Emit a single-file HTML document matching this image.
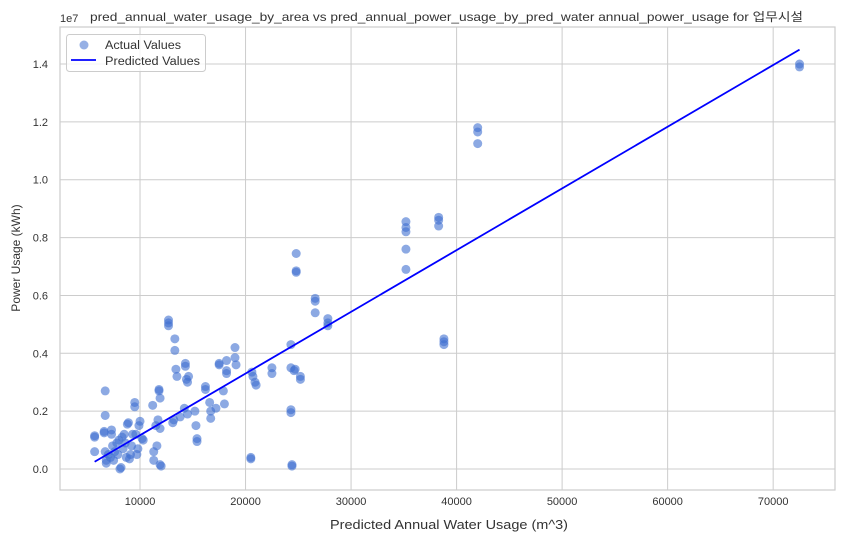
<!DOCTYPE html>
<html><head><meta charset="utf-8"><style>
body{margin:0;background:#fff;}
text{font-family:"Liberation Sans","Noto Sans CJK KR",sans-serif;fill:#333;}
</style></head><body>
<svg id="chart" width="844" height="542"></svg>
<script>
const waterUsage=[5700,5700,5700,6600,6600,6700,6700,6700,6800,6800,7000,7200,7300,7300,7400,7500,7600,7800,7900,8000,8100,8200,8300,8400,8500,8600,8700,8800,8900,9000,9100,9200,9300,9500,9500,9600,9700,9800,9900,10000,10200,10300,11200,11300,11300,11500,11600,11700,11800,11800,11900,11900,12000,11900,12700,12700,12700,13100,13200,13300,13300,13400,13500,13800,14200,14300,14300,14400,14500,14600,14500,15200,15300,15400,15400,16200,16200,16600,16700,16700,17200,17500,17500,17900,18000,18200,18200,18200,19000,19000,19100,20500,20500,20600,20700,20900,21000,22500,22500,24300,24300,24300,24300,24400,24400,24600,24700,24800,24800,24800,26600,26600,26600,27800,27800,27800,25200,25200,35200,35200,35200,35200,35200,38300,38300,38300,38800,38800,38800,42000,42000,42000,72500,72500];
const powerUsageM=[1.15,1.1,0.6,1.25,1.3,2.7,1.85,0.6,0.3,0.2,0.5,0.4,1.35,1.2,0.8,0.3,0.6,0.9,0.5,1.0,0.0,0.05,1.1,0.7,1.2,0.9,0.4,1.55,1.6,0.35,0.5,0.8,1.2,2.3,2.15,1.2,0.5,0.7,1.5,1.65,1.05,1.0,2.2,0.6,0.3,1.5,0.8,1.7,2.75,2.7,2.45,0.15,0.1,1.4,5.15,5.05,4.95,1.6,1.7,4.5,4.1,3.45,3.2,1.8,2.1,3.65,3.55,3.1,3.0,3.2,1.9,2.0,1.5,1.05,0.95,2.85,2.75,2.3,1.75,2.0,2.1,3.65,3.6,2.7,2.25,3.75,3.4,3.3,4.2,3.85,3.6,0.4,0.35,3.35,3.2,3.0,2.9,3.5,3.3,4.3,3.5,2.05,1.95,0.15,0.1,3.4,3.45,7.45,6.85,6.8,5.9,5.8,5.4,5.2,5.05,4.95,3.2,3.1,8.55,8.35,8.2,7.6,6.9,8.7,8.6,8.4,4.5,4.4,4.3,11.8,11.65,11.25,14.0,13.9];
const fitSlopeM=213.3e-6, fitInterceptM=-0.966;
const xTicks=[10000,20000,30000,40000,50000,60000,70000];
const yTicks=[0,0.2,0.4,0.6,0.8,1.0,1.2,1.4];
const L=60,R=835,T=27,B=490;
const xMin=2417,xMax=75860,yMin=-0.726,yMax=15.28;
const sx=v=>L+(v-xMin)/(xMax-xMin)*(R-L);
const sy=v=>B-(v-yMin)/(yMax-yMin)*(B-T);
const svg=document.getElementById('chart');const NS='http://www.w3.org/2000/svg';
function mk(t,a,p){const e=document.createElementNS(NS,t);for(const k in a)e.setAttribute(k,a[k]);(p||svg).appendChild(e);return e;}
for(const t of xTicks){const x=sx(t);
const g=mk('line',{x1:x,x2:x,y1:T,y2:B,stroke:'#cccccc','stroke-width':1});


const l=mk('text',{x:x,y:B+15,'text-anchor':'middle','font-size':11});l.textContent=t;

}
for(const t of yTicks){const y=sy(t*10);
const g=mk('line',{x1:L,x2:R,y1:y,y2:y,stroke:'#cccccc','stroke-width':1});


const l=mk('text',{x:L-12,y:y+4,'text-anchor':'end','font-size':11});l.textContent=t.toFixed(1);

}
const fr=mk('rect',{x:L,y:T,width:R-L,height:B-T,fill:'none',stroke:'#cccccc','stroke-width':1.2});


waterUsage.forEach((w,i)=>{const c=mk('circle',{cx:sx(w),cy:sy(powerUsageM[i]),r:4.5,fill:'#3f6fd0','fill-opacity':0.6});

});
const x0=Math.min(...waterUsage),x1=Math.max(...waterUsage);
const ln=mk('line',{x1:sx(x0),y1:sy(fitInterceptM+fitSlopeM*x0),x2:sx(x1),y2:sy(fitInterceptM+fitSlopeM*x1),stroke:'#0000ff','stroke-width':1.8});


</script>
<svg style="position:absolute;left:0;top:0" width="844" height="542">
<text x="60" y="22" font-size="11">1e7</text>
<text x="90" y="21" font-size="12" textLength="713" lengthAdjust="spacingAndGlyphs">pred_annual_water_usage_by_area vs pred_annual_power_usage_by_pred_water annual_power_usage for 업무시설</text>
<text x="330" y="529" font-size="12.5" textLength="238" lengthAdjust="spacingAndGlyphs">Predicted Annual Water Usage (m^3)</text>
<text x="20" y="258" font-size="12" text-anchor="middle" transform="rotate(-90 20 258)">Power Usage (kWh)</text>
<g>
<rect x="66.5" y="34.5" width="139" height="37" rx="3" fill="#fff" fill-opacity="0.8" stroke="#cccccc"/>
<circle cx="84" cy="45" r="4.5" fill="#3f6fd0" fill-opacity="0.55"/>
<text x="105" y="49" font-size="11.5" textLength="76" lengthAdjust="spacingAndGlyphs">Actual Values</text>
<line x1="71" x2="96" y1="60" y2="60" stroke="#0000ff" stroke-width="1.8"/>
<text x="105" y="65" font-size="11.5" textLength="95" lengthAdjust="spacingAndGlyphs">Predicted Values</text>
</g>
</svg>
</body></html>
